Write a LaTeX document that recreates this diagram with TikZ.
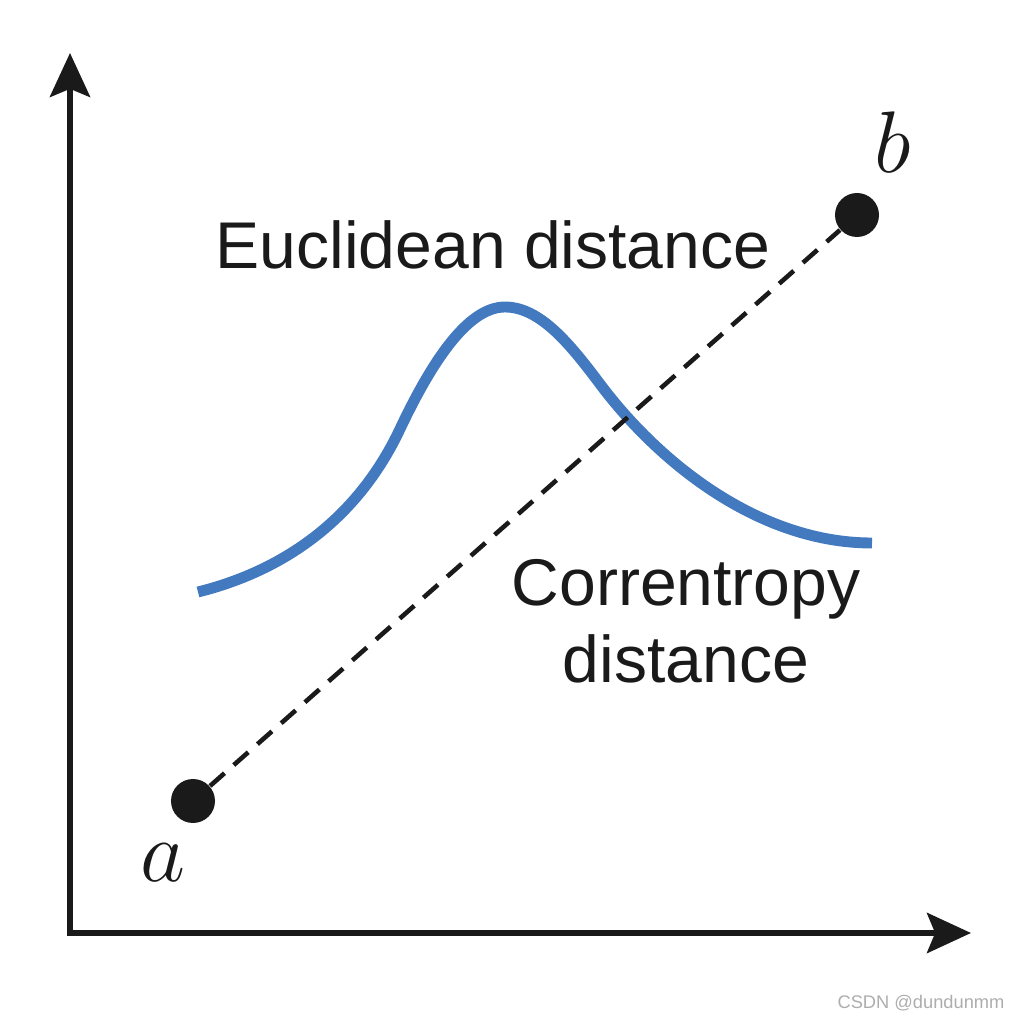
\documentclass[tikz,border=0pt]{standalone}
\usepackage{fontspec}
\setmainfont{Liberation Sans}
\usetikzlibrary{arrows.meta}
\definecolor{curveblue}{RGB}{66,121,191}
\definecolor{ink}{RGB}{26,26,26}
\begin{document}
\begin{tikzpicture}
		\tikzstyle{point}=[circle,fill=ink,minimum size=0.44cm,inner sep=0pt]
		\tikzstyle{axis}=[draw=ink,line width=1.7pt,line join=miter,arrows={Stealth[length=12.5pt,width=11.4pt,inset=2.3pt]-Stealth[length=12.5pt,width=11.4pt,inset=2.3pt]}]
		\tikzstyle{label}=[font=\fontsize{18.8}{22}\selectfont,text=ink,inner sep=0pt]
		\tikzstyle{letter}=[font=\fontsize{25}{30}\selectfont,text=ink,inner sep=0pt]
		\useasboundingbox (0,0) rectangle (10.24,10.24);
		% axes
		\coordinate (y_top) at (0.70,9.71);
		\coordinate (x_end) at (9.71,0.91);
		\draw[axis] (y_top) |- (x_end);
		% correntropy curve
		\draw[curveblue,line width=3.1pt] (1.98,4.32) .. controls (2.9,4.55) and (3.6,5.1) .. (4.0,5.95)
			.. controls (4.35,6.69) and (4.7,7.17) .. (5.05,7.17)
			.. controls (5.4,7.17) and (5.7,6.8) .. (6.0,6.4)
			.. controls (6.6,5.6) and (7.6,4.81) .. (8.72,4.81);
		% points
		\node[point] (p_a) at (1.93,2.23) {};
		\node[point] (p_b) at (8.57,8.09) {};
		\draw[ink,line width=1.3pt,dash pattern=on 5.5pt off 3.5pt] (p_a) -- (p_b);
		\node[letter] (l_a) at (1.63,1.61) {$a$};
		\node[letter] (l_b) at (8.93,8.82) {$b$};
		% labels
		\node[label] (euclid) at (4.93,7.79) {Euclidean distance};
		\node[label,align=center] (corr) at (6.86,4.03) {Correntropy\\distance};
		\node[font=\fontsize{5.2}{6}\selectfont,text=black!32] (mark) at (9.21,0.21) {CSDN @dundunmm};
	\end{tikzpicture}
\end{document}
